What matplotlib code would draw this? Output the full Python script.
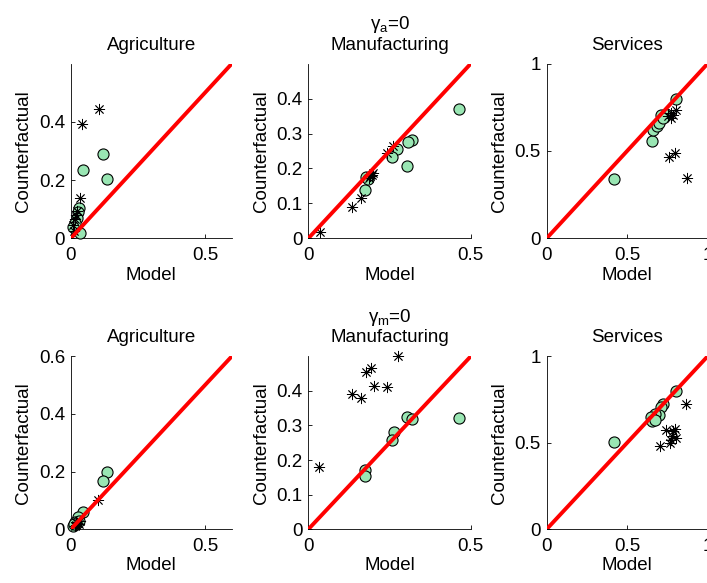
# Imports
import matplotlib
matplotlib.use("Agg")
import matplotlib.pyplot as plt                     # Package for data visualization

# Fonts (Helvetica look-alike)
plt.rcParams['font.family'] = ['Liberation Sans', 'DejaVu Sans']
plt.rcParams['mathtext.fontset'] = 'custom'
plt.rcParams['mathtext.rm'] = 'Liberation Sans'
plt.rcParams['mathtext.it'] = 'Liberation Sans'
plt.rcParams['mathtext.default'] = 'regular'

# Data: gamma_a = 0 (top row)
agr_a_model_c = [0.121, 0.134, 0.047, 0.030, 0.026, 0.022, 0.016, 0.008, 0.033]
agr_a_cf_c    = [0.289, 0.205, 0.236, 0.104, 0.090, 0.070, 0.053, 0.038, 0.020]
agr_a_model_s = [0.105, 0.043, 0.035, 0.025, 0.020, 0.015, 0.010, 0.012]
agr_a_cf_s    = [0.445, 0.393, 0.139, 0.095, 0.082, 0.065, 0.045, 0.025]

man_a_model_c = [0.464, 0.318, 0.307, 0.272, 0.256, 0.304, 0.177, 0.174, 0.183]
man_a_cf_c    = [0.371, 0.281, 0.275, 0.256, 0.234, 0.207, 0.176, 0.138, 0.170]
man_a_model_s = [0.036, 0.136, 0.161, 0.188, 0.195, 0.200, 0.241, 0.262, 0.190]
man_a_cf_s    = [0.018, 0.090, 0.116, 0.173, 0.180, 0.188, 0.245, 0.265, 0.178]

ser_a_model_c = [0.417, 0.804, 0.653, 0.661, 0.685, 0.700, 0.713, 0.744, 0.725]
ser_a_cf_c    = [0.339, 0.799, 0.560, 0.618, 0.645, 0.660, 0.705, 0.710, 0.690]
ser_a_model_s = [0.802, 0.785, 0.775, 0.754, 0.796, 0.762, 0.869, 0.770]
ser_a_cf_s    = [0.734, 0.705, 0.688, 0.700, 0.489, 0.464, 0.346, 0.715]

# Data: gamma_m = 0 (bottom row)
agr_m_model_c = [0.134, 0.121, 0.045, 0.028, 0.016, 0.010, 0.020, 0.030, 0.012]
agr_m_cf_c    = [0.199, 0.168, 0.061, 0.044, 0.026, 0.010, 0.018, 0.030, 0.020]
agr_m_model_s = [0.103, 0.020, 0.025, 0.030, 0.015, 0.035, 0.018]
agr_m_cf_s    = [0.101, 0.015, 0.022, 0.020, 0.012, 0.028, 0.025]

man_m_model_c = [0.464, 0.305, 0.318, 0.264, 0.256, 0.176, 0.174]
man_m_cf_c    = [0.322, 0.325, 0.320, 0.282, 0.258, 0.171, 0.154]
man_m_model_s = [0.034, 0.135, 0.161, 0.179, 0.193, 0.202, 0.243, 0.275]
man_m_cf_s    = [0.179, 0.390, 0.380, 0.455, 0.466, 0.414, 0.410, 0.501]

ser_m_model_c = [0.417, 0.804, 0.725, 0.713, 0.700, 0.671, 0.651, 0.657, 0.671]
ser_m_cf_c    = [0.503, 0.800, 0.722, 0.707, 0.660, 0.669, 0.649, 0.625, 0.632]
ser_m_model_s = [0.868, 0.744, 0.785, 0.795, 0.775, 0.806, 0.707, 0.765, 0.780]
ser_m_cf_s    = [0.722, 0.572, 0.568, 0.580, 0.515, 0.525, 0.480, 0.500, 0.540]

# Axis settings per sector
limits = [0.6, 0.5, 1.0]
xticks = [[0, 0.5], [0, 0.5], [0, 0.5, 1]]
xtick_labels = [['0', '0.5'], ['0', '0.5'], ['0', '0.5', '1']]
yticks_top = [[0, 0.2, 0.4], [0, 0.1, 0.2, 0.3, 0.4], [0, 0.5, 1]]
yticks_bot = [[0, 0.2, 0.4, 0.6], [0, 0.1, 0.2, 0.3, 0.4], [0, 0.5, 1]]
sectors = ['Agriculture', 'Manufacturing', 'Services']

rows = [
    [(agr_a_model_c, agr_a_cf_c, agr_a_model_s, agr_a_cf_s),
     (man_a_model_c, man_a_cf_c, man_a_model_s, man_a_cf_s),
     (ser_a_model_c, ser_a_cf_c, ser_a_model_s, ser_a_cf_s)],
    [(agr_m_model_c, agr_m_cf_c, agr_m_model_s, agr_m_cf_s),
     (man_m_model_c, man_m_cf_c, man_m_model_s, man_m_cf_s),
     (ser_m_model_c, ser_m_cf_c, ser_m_model_s, ser_m_cf_s)],
]
row_titles = [r'$\gamma_a$=0', r'$\gamma_m$=0']
row_yticks = [yticks_top, yticks_bot]

# Layout (figure fractions)
lefts = [0.100, 0.436, 0.773]
widths = [0.228, 0.230, 0.228]
bottoms = [0.591, 0.092]
heights = [0.300, 0.297]

fig = plt.figure(figsize=(7.07, 5.83), dpi=100)
fs = 13.5
green = (0.6, 0.9, 0.7)

for r in range(2):
    for c in range(3):
        ax = fig.add_axes([lefts[c], bottoms[r], widths[c], heights[r]])
        mc, cc, ms, cs = rows[r][c]
        lim = limits[c]

        ax.plot(mc, cc, 'o', ms=8, mfc=green, mec='black', mew=0.8,
                clip_on=False, zorder=3)
        ax.plot(ms, cs, marker=(8, 2, 0), ls='none', ms=8, mec='black',
                mew=0.6, clip_on=False, zorder=4)
        ax.plot([0, lim], [0, lim], color='red', lw=2.8, zorder=5,
                solid_capstyle='butt')

        ax.set_xlim(0, lim)
        ax.set_ylim(0, lim)
        ax.set_xticks(xticks[c])
        ax.set_xticklabels(xtick_labels[c])
        yt = row_yticks[r][c]
        ax.set_yticks(yt)
        ax.set_yticklabels(['%g' % v for v in yt])

        ax.spines['top'].set_visible(False)
        ax.spines['right'].set_visible(False)
        ax.spines['left'].set_linewidth(0.6)
        ax.spines['bottom'].set_linewidth(0.6)
        ax.tick_params(direction='in', length=3, width=0.6, labelsize=fs)
        ax.tick_params(axis='x', pad=6)
        ax.tick_params(axis='y', pad=4)

        ax.set_xlabel('Model', fontsize=fs, labelpad=2)
        ax.set_ylabel('Counterfactual', fontsize=fs, labelpad=5)
        if c == 1:
            ax.set_title(row_titles[r] + '\n' + sectors[c], fontsize=fs,
                         pad=10, linespacing=1.1)
        else:
            ax.set_title(sectors[c], fontsize=fs, pad=10)

plt.savefig('out.png', dpi=100)
